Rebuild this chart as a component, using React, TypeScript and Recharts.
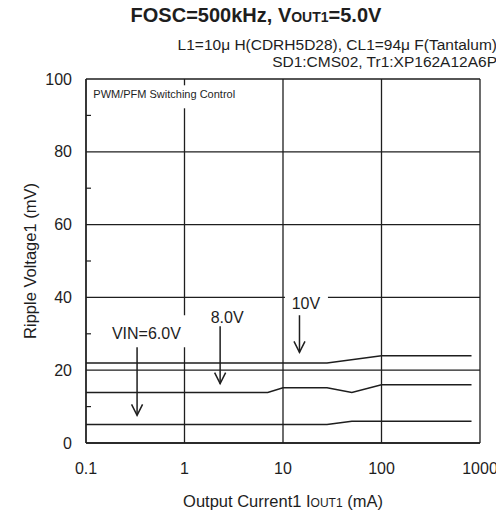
import React from 'react';
import { LineChart, Line, XAxis, YAxis, CartesianGrid, ReferenceLine, ReferenceDot } from 'recharts';

const FONT = '"Liberation Sans", Arial, Helvetica, sans-serif';
const INK = '#1e1e1e';

// Output current (mA) and ripple voltage (mV) for each input voltage
const currentsVin6 = [0.1, 28, 50, 820];
const rippleVin6 = [5.1, 5.1, 6.0, 6.0];
const currentsVin8 = [0.1, 7, 10, 28, 50, 100, 820];
const rippleVin8 = [13.9, 13.9, 15.2, 15.2, 13.9, 16.0, 16.0];
const currentsVin10 = [0.1, 28, 100, 820];
const rippleVin10 = [22.0, 22.0, 24.0, 24.0];

const xTicks = [0.1, 1, 10, 100, 1000];
const xTickLabels = ['0.1', '1', '10', '100', '1000'];
const xMinorTicks = [0.2, 0.3, 0.4, 0.5, 0.6, 0.7, 0.8, 0.9, 2, 3, 4, 5, 6, 7, 8, 9, 20, 30, 40, 50, 60, 70, 80, 90, 200, 300, 400, 500, 600, 700, 800, 900];
const yTicks = [0, 20, 40, 60, 80, 100];
const yMinorTicks = [10, 30, 50, 70, 90];

// annotations: label text, anchor (current, ripple); arrows from -> to
const seriesLabels = [
  { text: 'VIN=6.0V', x: 0.41, y: 28.5 },
  { text: '8.0V', x: 2.71, y: 33.0 },
  { text: '10V', x: 17.1, y: 36.95 },
];
const arrows = [
  { x: 0.33, from: 28.0, to: 7.6 },
  { x: 2.3, from: 32.1, to: 16.3 },
  { x: 14.7, from: 35.1, to: 24.9 },
];

const toPoints = (xs: number[], ys: number[]) => xs.map((x, i) => ({ x, y: ys[i] }));
const dataVin6 = toPoints(currentsVin6, rippleVin6);
const dataVin8 = toPoints(currentsVin8, rippleVin8);
const dataVin10 = toPoints(currentsVin10, rippleVin10);

const ArrowShape = (p: any) => {
  const { x1, y1, x2, y2 } = p;
  return (
    <g>
      <line x1={x1} y1={y1} x2={x2} y2={y2} stroke={INK} strokeWidth={1.5} />
      <polyline points={`${x2 - 5.5},${y2 - 11} ${x2},${y2} ${x2 + 5.5},${y2 - 11}`} fill="none" stroke={INK} strokeWidth={1.5} />
    </g>
  );
};

const labelBoxes: Record<string, [number, number, number, number] | null> = {
  'VIN=6.0V': [-40, -24, 84, 32],
  '8.0V': null,
  '10V': [-21, -17, 43, 21],
};

const makeSeriesLabel = (text: string) => (p: any) => {
  const box = labelBoxes[text];
  return (
    <g>
      {box && <rect x={p.cx + box[0]} y={p.cy + box[1]} width={box[2]} height={box[3]} fill="#fff" />}
      <text x={p.cx} y={p.cy} textAnchor="middle" fontSize={16} fontFamily={FONT} fill={INK}>{text}</text>
    </g>
  );
};

const ModeLabel = (p: any) => (
  <g>
    <rect x={p.cx - 5} y={p.cy - 13} width={182} height={23} fill="#fff" />
    <text x={p.cx} y={p.cy} fontSize={11} fontFamily={FONT} fill={INK}>PWM/PFM Switching Control</text>
  </g>
);

const YLabel = (props: any) => {
  const vb = props.viewBox || {};
  const cx = vb.x + 22;
  const cy = vb.y + vb.height / 2;
  return (
    <text x={cx} y={cy} transform={`rotate(-90 ${cx} ${cy})`} textAnchor="middle" dominantBaseline="central" fontSize={16.5} fontFamily={FONT} fill={INK}>
      Ripple Voltage1 (mV)
    </text>
  );
};

const XLabel = (props: any) => {
  const vb = props.viewBox || {};
  const cx = vb.x + vb.width / 2;
  const y = vb.y + 64;
  return (
    <text x={cx} y={y} textAnchor="middle" fontSize={16.5} fontFamily={FONT} fill={INK}>
      <tspan>Output Current1  I</tspan>
      <tspan fontSize={12}>OUT1</tspan>
      <tspan> (mA)</tspan>
    </text>
  );
};

export default function App() {
  return (
    <div style={{ position: 'relative', width: 496, height: 505, fontFamily: FONT }}>
      <LineChart width={496} height={505} margin={{ top: 71, right: 24, left: 0, bottom: 0 }} style={{ position: 'absolute', left: 0, top: 0 }}>
        <CartesianGrid stroke={INK} strokeWidth={1.3} strokeOpacity={1} />
        <XAxis
          dataKey="x"
          type="number"
          scale="log"
          domain={[0.1, 1000]}
          ticks={xTicks}
          tickFormatter={(v: number) => xTickLabels[xTicks.indexOf(v)] ?? String(v)}
          allowDataOverflow
          height={70}
          axisLine={{ stroke: INK, strokeWidth: 1.3 }}
          tickLine={false}
          tickSize={6}
          tickMargin={14}
          tick={{ fontSize: 16, fontFamily: FONT, fill: INK }}
          label={XLabel}
        />
        <XAxis
          xAxisId="minor"
          type="number"
          scale="log"
          domain={[0.1, 1000]}
          ticks={xMinorTicks}
          allowDataOverflow
          mirror
          height={1}
          axisLine={false}
          tickLine={{ stroke: INK, strokeWidth: 1.2 }}
          tickSize={5}
          tick={{ fontSize: 0 }}
          tickFormatter={() => ''}
        />
        <YAxis
          type="number"
          domain={[0, 100]}
          ticks={yTicks}
          allowDataOverflow
          width={78}
          axisLine={{ stroke: INK, strokeWidth: 1.3 }}
          tickLine={false}
          tickSize={6}
          tickMargin={8}
          tick={{ fontSize: 16, fontFamily: FONT, fill: INK }}
          label={YLabel}
        />
        <YAxis
          yAxisId="minor"
          type="number"
          domain={[0, 100]}
          ticks={yMinorTicks}
          allowDataOverflow
          mirror
          width={1}
          axisLine={false}
          tickLine={{ stroke: INK, strokeWidth: 1.2 }}
          tickSize={5}
          tick={{ fontSize: 0 }}
          tickFormatter={() => ''}
        />
        <Line data={dataVin6} dataKey="y" stroke={INK} strokeWidth={1.5} dot={false} isAnimationActive={false} type="linear" />
        <Line data={dataVin8} dataKey="y" stroke={INK} strokeWidth={1.5} dot={false} isAnimationActive={false} type="linear" />
        <Line data={dataVin10} dataKey="y" stroke={INK} strokeWidth={1.5} dot={false} isAnimationActive={false} type="linear" />
        <ReferenceDot x={0.1186} y={94.7} r={0} shape={ModeLabel} ifOverflow="visible" />
        {seriesLabels.map((l) => (
          <ReferenceDot key={l.text} x={l.x} y={l.y} r={0} shape={makeSeriesLabel(l.text)} ifOverflow="visible" />
        ))}
        {arrows.map((a, i) => (
          <ReferenceLine key={i} segment={[{ x: a.x, y: a.from }, { x: a.x, y: a.to }]} shape={ArrowShape} ifOverflow="visible" />
        ))}
      </LineChart>
      <svg width={496} height={70} style={{ position: 'absolute', left: 0, top: 0, overflow: 'visible', pointerEvents: 'none' }}>
        <text x={248} y={13.5} textAnchor="middle" fontSize={20} fontWeight="bold" fontFamily={FONT} fill={INK}>
          <tspan>FOSC=500kHz, V</tspan>
          <tspan fontSize={14}>OUT1</tspan>
          <tspan>=5.0V</tspan>
        </text>
        <text x={489} y={42} textAnchor="end" fontSize={15.5} fontFamily={FONT} fill={INK}>
          L1=10μ H(CDRH5D28), CL1=94μ F(Tantalum)
        </text>
        <text x={489} y={59} textAnchor="end" fontSize={15.5} fontFamily={FONT} fill={INK}>
          SD1:CMS02, Tr1:XP162A12A6P
        </text>
      </svg>
    </div>
  );
}
